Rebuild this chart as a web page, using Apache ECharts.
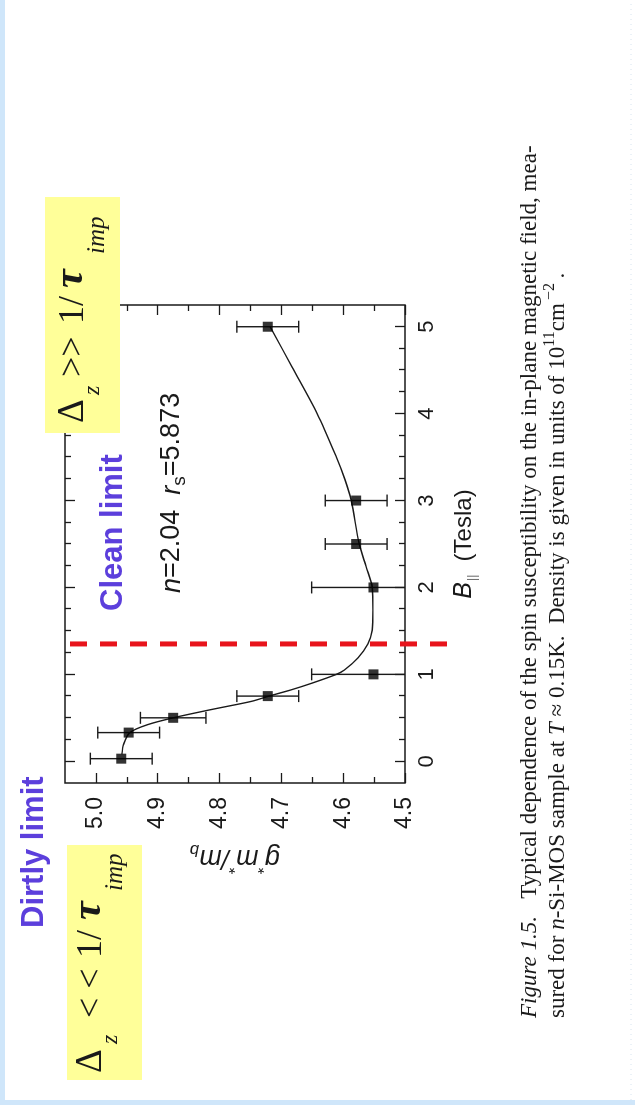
<!DOCTYPE html>
<html><head><meta charset="utf-8">
<script src="https://cdn.jsdelivr.net/npm/echarts@6/dist/echarts.min.js"></script>
<style>
html,body{margin:0;padding:0;background:#fff;}
#page{position:relative;width:635px;height:1105px;overflow:hidden;background:#fff;}
#chart{position:absolute;left:0;top:1105px;width:1105px;height:635px;transform-origin:0 0;transform:rotate(-90deg);}
</style></head><body><div id="page"><div id="chart"></div></div>
<script>
// measured points: in-plane field B (Tesla), g*m*/m_b, and its error
const fieldB  = [0.03, 0.33, 0.5, 0.75, 1.0, 2.0, 2.5, 3.0, 5.0];
const gFactor = [4.959, 4.947, 4.875, 4.722, 4.551, 4.551, 4.579, 4.579, 4.722];
const gError  = [0.05, 0.05, 0.053, 0.05, 0.1, 0.1, 0.05, 0.05, 0.05];
// fitted curve
const fitB = [0.08, 0.2, 0.33, 0.42, 0.5, 0.6, 0.69, 0.75, 0.82, 0.9, 1.0, 1.05, 1.19, 1.35, 1.51, 1.74, 2.0, 2.24, 2.5, 3.0, 3.24, 3.5, 4.0, 4.54, 5.0];
const fitG = [4.958, 4.955, 4.945, 4.917, 4.875, 4.81, 4.748, 4.72, 4.685, 4.65, 4.611, 4.598, 4.576, 4.56, 4.553, 4.552, 4.553, 4.563, 4.574, 4.587, 4.597, 4.611, 4.642, 4.683, 4.718];
// tick labels
const bMajorTicks = [0, 1, 2, 3, 4, 5];
const bMinorTicks = [0.25, 0.5, 0.75, 1.25, 1.5, 1.75, 2.25, 2.5, 2.75, 3.25, 3.5, 3.75, 4.25, 4.5, 4.75];
const gMajorTicks = [4.5, 4.6, 4.7, 4.8, 4.9, 5.0];
const gMinorTicks = [4.55, 4.65, 4.75, 4.85, 4.95];
// dirty / clean boundary (red dashed line) and its extent in g units
const boundaryB = [1.35];
const boundaryG = [5.042, 4.43];

const SANS = '"Liberation Sans", Arial, sans-serif';
const SERIF = '"Liberation Serif", "Times New Roman", serif';
const INK = '#1a1a1a';

const chart = echarts.init(document.getElementById('chart'), null, {width: 1105, height: 635, renderer: 'canvas'});

function xAx(pos, ticks, len, withLabels) {
  const a = {
    type: 'value', position: pos, min: -0.25, max: 5.25,
    axisLine: {show: false, onZero: false}, splitLine: {show: false},
    axisTick: {show: true, inside: true, length: len, customValues: ticks, lineStyle: {color: INK, width: 1.3}},
    axisLabel: {show: false}
  };
  if (withLabels) {
    a.axisLabel = {show: true, customValues: bMajorTicks, margin: 11, color: INK, fontFamily: SANS, fontSize: 22,
      formatter: v => String(Math.round(v))};
    a.name = '{i|B}{s|||}{r|  (Tesla)}';
    a.nameLocation = 'middle';
    a.nameGap = 44;
    a.nameTextStyle = {rich: {
      i: {fontFamily: SANS, fontStyle: 'italic', fontSize: 25, color: INK, lineHeight: 30, verticalAlign: 'middle'},
      s: {fontFamily: SANS, fontSize: 12, color: '#666', lineHeight: 30, verticalAlign: 'bottom', padding: [0, 0, 0, 1]},
      r: {fontFamily: SANS, fontSize: 24, color: INK, lineHeight: 30, verticalAlign: 'middle'}
    }};
  }
  return a;
}
function yAx(pos, ticks, len, withLabels) {
  const a = {
    type: 'value', position: pos, min: 4.5, max: 5.05,
    axisLine: {show: false, onZero: false}, splitLine: {show: false},
    axisTick: {show: true, inside: true, length: len, customValues: ticks, lineStyle: {color: INK, width: 1.3}},
    axisLabel: {show: false}
  };
  if (withLabels) {
    a.axisLabel = {show: true, customValues: gMajorTicks, margin: 14, color: INK, fontFamily: SANS, fontSize: 23,
      formatter: v => v.toFixed(1)};
    a.name = '{i|g}{p|*}{i|m}{p|*}{i|/m}{b|b}';
    a.nameLocation = 'middle';
    a.nameRotate = 90;
    a.nameGap = 58;
    a.nameTextStyle = {rich: {
      i: {fontFamily: SANS, fontStyle: 'italic', fontSize: 27, color: INK, lineHeight: 34, verticalAlign: 'middle'},
      p: {fontFamily: SANS, fontStyle: 'italic', fontSize: 17, color: INK, lineHeight: 34, verticalAlign: 'top'},
      b: {fontFamily: SANS, fontStyle: 'italic', fontSize: 17, color: INK, lineHeight: 34, verticalAlign: 'bottom'}
    }};
  }
  return a;
}

function errorBars(params, api) {
  const b = api.value(0), g = api.value(1), e = api.value(2);
  const p1 = api.coord([b, g + e]), p2 = api.coord([b, g - e]);
  const cs = params.coordSys;
  const top = cs.y, bot = cs.y + cs.height;
  const y1 = Math.max(Math.min(p1[1], p2[1]), top);
  const y2 = Math.min(Math.max(p1[1], p2[1]), bot);
  const st = {stroke: INK, lineWidth: 1.4};
  const kids = [{type: 'line', shape: {x1: p1[0], y1: y1, x2: p1[0], y2: y2}, style: st}];
  const cap = 6;
  if (Math.min(p1[1], p2[1]) >= top) kids.push({type: 'line', shape: {x1: p1[0] - cap, y1: y1, x2: p1[0] + cap, y2: y1}, style: st});
  if (Math.max(p1[1], p2[1]) <= bot) kids.push({type: 'line', shape: {x1: p1[0] - cap, y1: y2, x2: p1[0] + cap, y2: y2}, style: st});
  return {type: 'group', children: kids};
}
function boundaryLine(params, api) {
  const a = api.coord([api.value(0), api.value(1)]);
  const b = api.coord([api.value(0), api.value(2)]);
  return {type: 'line', shape: {x1: a[0], y1: a[1], x2: b[0], y2: b[1]},
    style: {stroke: '#e8141c', lineWidth: 5, lineDash: [17, 13]}};
}

function txt(x, y, text, style) {
  return {type: 'text', x: x, y: y, z: 20,
    style: Object.assign({text: text, fill: INK, align: 'left', verticalAlign: 'middle', textAlign: 'left', textVerticalAlign: 'middle'}, style)};
}
function formula(x0, base, rel, offs) {
  // offs: positions of the pieces relative to the box start
  const mid = (size) => base - 0.3 * size;
  return [
    txt(x0 + offs[0], mid(37), '\u0394', {fontFamily: SERIF, fontSize: 37}),
    txt(x0 + offs[1], mid(24) + 16, 'z', {fontFamily: SERIF, fontSize: 24, fontStyle: 'italic'}),
    txt(x0 + offs[2], mid(36), rel, {fontFamily: SERIF, fontSize: 36}),
    txt(x0 + offs[3], mid(36), '1/', {fontFamily: SERIF, fontSize: 36}),
    txt(x0 + offs[4], mid(42), '\u03C4', {fontFamily: SERIF, fontSize: 42, fontStyle: 'italic', fontWeight: 'bold'}),
    txt(x0 + offs[5], mid(24) + 21, 'imp', {fontFamily: SERIF, fontSize: 25, fontStyle: 'italic'})
  ];
}

const capRich = {
  r: {fontFamily: SERIF, fontSize: 23, fill: INK, color: INK, lineHeight: 32, verticalAlign: 'middle'},
  i: {fontFamily: SERIF, fontSize: 23, fontStyle: 'italic', fill: INK, color: INK, lineHeight: 32, verticalAlign: 'middle'},
  s: {fontFamily: SERIF, fontSize: 16, fill: INK, color: INK, lineHeight: 32, verticalAlign: 'top'}
};
const paramRich = {
  r: {fontFamily: SANS, fontSize: 27, fill: INK, color: INK, lineHeight: 34, verticalAlign: 'middle'},
  i: {fontFamily: SANS, fontSize: 27, fontStyle: 'italic', fill: INK, color: INK, lineHeight: 34, verticalAlign: 'middle'},
  s: {fontFamily: SANS, fontSize: 19, fill: INK, color: INK, lineHeight: 34, verticalAlign: 'bottom'}
};

const graphics = [
  {type: 'rect', z: 1, shape: {x: 0, y: 0, width: 1105, height: 5}, style: {fill: '#cfe6fa'}},
  {type: 'rect', z: 1, shape: {x: 0, y: 0, width: 5, height: 635}, style: {fill: '#cfe6fa'}},
  {type: 'line', z: 1, shape: {x1: 0, y1: 631, x2: 1105, y2: 631}, style: {stroke: '#d6e4f0', lineWidth: 1, lineDash: [1, 4]}},
  {type: 'rect', z: 15, shape: {x: 25, y: 67, width: 235, height: 75}, style: {fill: '#ffff99'}},
  {type: 'rect', z: 15, shape: {x: 672, y: 45, width: 236, height: 75}, style: {fill: '#ffff99'}},
  txt(177, 34, 'Dirtly limit', {fontFamily: SANS, fontSize: 31, fontWeight: 'bold', fill: '#5c3fdc'}),
  txt(494, 113, 'Clean limit', {fontFamily: SANS, fontSize: 31, fontWeight: 'bold', fill: '#5c3fdc'}),
  txt(512, 172, '{i|n}{r|=2.04  }{i|r}{s|s}{r|=5.873}', {rich: paramRich}),
  txt(87, 530, '{i|Figure 1.5.}{r|\u2002 Typical dependence of the spin susceptibility on the in-plane magnetic field, mea-}', {rich: capRich}),
  txt(87, 558, '{r|sured for }{i|n}{r|-Si-MOS sample at }{i|T}{r| \u2248 0.15K.  Density is given in units of 10}{s|11}{r|cm}{s|\u2009\u22122}{r|\u2009.}', {rich: capRich})
].concat(
  formula(25, 102, '< <', [7, 36, 62, 122, 160, 189]),
  formula(672, 84, '>>', [10, 38, 56, 109, 145, 179])
);

chart.setOption({
  animation: false,
  backgroundColor: '#ffffff',
  grid: {left: 322, top: 65, width: 478, height: 340, show: true, borderColor: INK, borderWidth: 1.5, backgroundColor: 'transparent'},
  xAxis: [xAx('bottom', bMajorTicks, 10, true), xAx('bottom', bMinorTicks, 6, false), xAx('top', bMajorTicks, 10, false), xAx('top', bMinorTicks, 6, false)],
  yAxis: [yAx('left', gMajorTicks, 10, true), yAx('left', gMinorTicks, 6, false), yAx('right', gMajorTicks, 10, false), yAx('right', gMinorTicks, 6, false)],
  series: [
    {type: 'line', name: 'fit', data: fitB.map((b, i) => [b, fitG[i]]), smooth: 0.3, symbol: 'none',
      lineStyle: {color: INK, width: 1.4}, z: 2, silent: true},
    {type: 'custom', name: 'error', data: fieldB.map((b, i) => [b, gFactor[i], gError[i]]), renderItem: errorBars, z: 3, clip: false, silent: true},
    {type: 'scatter', name: 'data', data: fieldB.map((b, i) => [b, gFactor[i]]), symbol: 'rect', symbolSize: 10,
      itemStyle: {color: '#000'}, z: 4, silent: true},
    {type: 'custom', name: 'boundary', data: [[boundaryB[0], boundaryG[0], boundaryG[1]]], renderItem: boundaryLine, clip: false, z: 6, silent: true}
  ],
  graphic: graphics
});
</script></body></html>
